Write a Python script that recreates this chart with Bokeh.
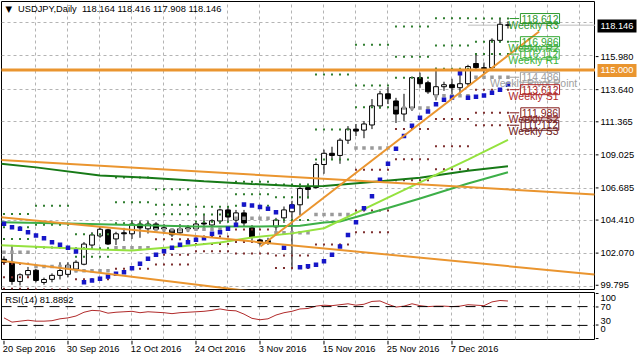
import pandas as pd
from bokeh.plotting import figure
from bokeh.layouts import column, row
from bokeh.models import FixedTicker, Label, Range1d, Span
from bokeh.core.properties import value
from bokeh.embed import file_html
from bokeh.resources import INLINE

# ---------------- data ----------------
dates = pd.bdate_range("2016-09-20", "2016-12-16")

opens = [101.69, 101.48, 100.13, 100.60, 100.92, 100.06, 100.28, 100.56, 100.63,
         101.00, 101.34, 102.69, 103.33, 103.76,
         103.12, 103.55, 103.48, 104.17, 103.83,
         104.17, 103.90, 103.76, 103.55, 103.90,
         103.83, 104.24, 104.10, 104.38, 105.16,
         104.45, 104.95, 103.90, 103.05, 103.00,
         103.97, 104.60, 105.03, 105.52, 106.73,
         106.73, 108.35, 109.14, 108.99, 110.06,
         110.84, 110.77, 111.13, 112.47, 113.32,
         112.82, 111.90, 112.33, 114.46, 114.10,
         113.25, 113.82, 113.96, 113.75, 114.03,
         115.45, 115.16, 115.16, 117.08, 118.164]
highs = [101.90, 102.70, 100.70, 101.15, 101.00, 100.40, 100.70, 101.48, 101.48,
         101.62, 102.90, 103.60, 103.97, 103.83,
         103.62, 103.90, 104.45, 104.40, 104.40,
         104.30, 104.17, 103.83, 104.17, 104.10,
         104.25, 104.88, 104.50, 105.25, 105.38,
         105.16, 105.16, 104.10, 103.13, 103.20,
         104.60, 105.40, 105.80, 106.80, 106.95,
         108.50, 109.40, 109.60, 110.20, 111.05,
         111.20, 111.40, 112.95, 113.53, 113.80,
         113.04, 113.32, 114.53, 114.81, 114.24,
         115.16, 114.17, 114.38, 114.81, 115.36,
         116.10, 115.52, 117.22, 118.66, 118.416]
lows = [101.40, 99.90, 99.85, 100.40, 100.07, 99.90, 100.07, 100.27, 100.42,
        100.77, 101.27, 102.56, 103.20, 102.69,
        102.69, 102.97, 103.12, 103.20, 103.50,
        103.69, 103.48, 103.26, 103.48, 103.60,
        103.70, 103.90, 103.90, 104.17, 104.30,
        104.17, 103.97, 103.00, 102.67, 102.70,
        103.69, 104.24, 100.98, 104.80, 105.95,
        106.66, 107.70, 108.70, 108.40, 109.80,
        110.35, 110.20, 110.84, 112.26, 112.60,
        111.27, 111.40, 112.12, 113.74, 113.32,
        112.86, 113.53, 113.18, 113.32, 113.89,
        114.95, 114.74, 115.09, 116.94, 117.908]
closes = [101.48, 100.13, 100.60, 100.90, 100.20, 100.27, 100.56, 100.90, 101.27,
          101.48, 102.76, 103.40, 103.80, 102.76,
          103.48, 103.48, 104.17, 103.90, 104.17,
          103.80, 103.83, 103.41, 103.83, 103.83,
          104.17, 104.17, 104.40, 105.16, 104.66,
          104.95, 104.24, 103.26, 102.83, 102.85,
          104.45, 105.16, 105.52, 106.66, 106.60,
          108.35, 109.14, 108.99, 110.06, 110.84,
          110.70, 111.20, 112.47, 113.32, 112.97,
          111.90, 112.33, 114.46, 114.03, 113.46,
          113.82, 113.96, 113.75, 114.03, 115.238,
          115.16, 115.09, 117.08, 118.21, 118.146]

# Parabolic SAR (read per bar)
sar = [104.18, 103.94, 103.83, 103.59, 103.36, 103.17, 102.89, 102.71, 102.50, 102.24,
       100.08, 100.20, 100.32, 100.48, 100.67, 100.78, 101.06, 101.37, 101.72, 102.00,
       102.26, 102.50, 102.71, 102.89, 103.06, 103.17, 103.48, 103.59, 103.83, 104.11,
       105.54, 105.47, 105.37, 105.24, 105.00, 102.50, 105.40, 101.13, 101.20, 101.30,
       101.55, 102.00, 102.59, 103.40, 104.30, 105.28, 106.12, 107.28, 108.40, 109.46,
       110.36, 111.08, 111.64, 112.08, 112.59, 112.91, 113.06, 114.77, 113.05, 113.12,
       113.20, 113.39, 113.60, 113.96]

# RSI(14) (read per bar)
rsi = [46, 37, 39, 41, 39, 39, 40, 44, 46, 50,
       58, 62, 61, 56, 58, 59, 60, 57, 59, 58,
       57, 55, 57, 58, 59, 60, 62, 65, 62, 61,
       54, 45, 42, 44, 52, 57, 60, 65, 66, 71,
       73, 72, 74, 76, 73, 75, 81, 82, 75, 69,
       71, 76, 72, 70, 71, 71, 70, 71, 74, 73,
       72, 80, 83, 81.8892]

# Moving averages (read at bar positions)
ma_slow_x = [-1, 4, 12, 18, 25, 31, 37, 40, 46, 52, 58, 63]
ma_slow = [108.45, 108.15, 107.58, 107.42, 107.17, 106.98, 106.83, 106.84, 107.12, 107.42, 107.92, 108.23]
ma_mid_x = [-1, 8, 16, 24, 32, 37, 40, 42, 46, 48, 52, 58, 63]
ma_mid = [104.30, 104.20, 104.10, 104.00, 104.00, 104.05, 104.27, 104.34, 104.98, 105.29, 105.96, 107.02, 107.81]
ma_fast_x = [-1, 6, 12, 16, 22, 27, 31, 36, 40, 48, 52, 58, 63]
ma_fast = [102.70, 102.52, 102.38, 102.31, 102.59, 102.87, 103.22, 103.51, 103.87, 106.03, 107.09, 108.70, 110.09]

# Weekly high/low/close of the previous weeks (weeks of 12 Sep ... 5 Dec)
wk_high = [103.00, 102.79, 101.48, 103.97, 104.45, 104.30, 105.38, 105.16, 106.95, 111.05, 113.80, 114.81, 115.36]
wk_low = [101.25, 99.85, 99.90, 100.77, 102.69, 103.26, 103.70, 102.67, 100.98, 106.66, 110.20, 111.27, 112.86]
wk_close = [102.30, 100.90, 101.27, 102.76, 104.17, 103.83, 104.66, 102.85, 106.60, 110.84, 112.97, 113.46, 115.238]

# Trend line objects: (bar0, price0, bar1, price1)
trend_lines = [(-0.5, 108.68, 73.8, 106.24),
               (-0.5, 104.65, 73.8, 100.62),
               (-0.5, 101.60, 32.0, 99.36),
               (32.06, 102.59, 66.9, 117.70)]
hline_level = 115.000
bid = 118.146
bid_from = 58

price_ticks = [115.980, 113.640, 111.365, 109.025, 106.685, 104.410, 102.070, 99.795]
grid_levels = [118.320] + price_ticks
date_ticks = [0, 8, 16, 24, 32, 40, 48, 56]
rsi_levels = [70, 30]
rsi_ticks = [100, 70, 30, 0]

title_text = "USDJPY,Daily\u00a0\u00a0118.164 118.416 117.908 118.146"
rsi_title = "RSI(14) 81.8892"

# ---------------- geometry / styling ----------------
FONT = "Liberation Sans"
UI_SIZE = "9.3px"
GRID = "#b4b4b4"
ORANGE = "#EA952F"
bars = list(range(len(dates)))

W_TOTAL, H_TOTAL = 637, 358
X0, X1 = -0.3125, 73.94         # bar range across the price frame
Y0, Y1 = 99.565, 119.81         # price range across the price frame
FW, FH = 594, 288               # price frame size (px)
AXW = W_TOTAL - FW - 1          # right axis column width (px)
RH = 47                          # RSI frame height (px)
pp_y = (Y1 - Y0) / FH
pp_x = (X1 - X0) / FW

xr = Range1d(X0, X1)


def base_fig(w, h, xrng, yrng, **kw):
    f = figure(width=w, height=h, x_range=xrng, y_range=yrng, output_backend="svg",
               toolbar_location=None, x_axis_location=None, y_axis_location=None,
               min_border=0, **kw)
    f.background_fill_color = "white"
    f.border_fill_color = "white"
    return f


# ---- main price panel ----
p = base_fig(FW + 1, FH + 2, xr, Range1d(Y0, Y1), min_border_left=1, min_border_top=1,
             min_border_bottom=1)
p.outline_line_color = "black"
p.xgrid.ticker = FixedTicker(ticks=list(range(4, 76, 4)))
p.ygrid.ticker = FixedTicker(ticks=grid_levels)
p.xgrid.grid_line_color = GRID
p.ygrid.grid_line_color = GRID
p.xgrid.grid_line_dash = "3 3"
p.ygrid.grid_line_dash = "3 3"

# bid line
p.line([bid_from, X1 + 1], [bid, bid], color="#bdbdbd", line_width=1)

# candles
up = [i for i in bars if closes[i] >= opens[i]]
dn = [i for i in bars if closes[i] < opens[i]]
p.segment(bars, highs, bars, lows, color="black", line_width=1)
p.vbar(x=up, bottom=[opens[i] for i in up], top=[closes[i] for i in up], width=0.6,
       fill_color="white", line_color="black", line_width=1)
p.vbar(x=dn, bottom=[closes[i] for i in dn], top=[opens[i] for i in dn], width=0.6,
       fill_color="black", line_color="black", line_width=1)

# weekly pivots (standard floor pivots from the previous week's H/L/C)
iso = [d.isocalendar()[1] for d in dates]
first_week = iso[0]
level_names = ["R3", "R2", "R1", "P", "S1", "S2", "S3"]
dot_col = {"R3": "#2f7d2f", "R2": "#2f7d2f", "R1": "#2f7d2f", "P": "#9a9a9a",
           "S1": "#7d2f2f", "S2": "#7d2f2f", "S3": "#7d2f2f"}


def pivots(k):
    h, l, c = wk_high[k], wk_low[k], wk_close[k]
    pv = (h + l + c) / 3
    return {"R3": h + 2 * (pv - l), "R2": pv + (h - l), "R1": 2 * pv - l, "P": pv,
            "S1": 2 * pv - h, "S2": pv - (h - l), "S3": l - 2 * (h - pv)}


dx, dy, dc, ds = [], [], [], []
for i in bars:
    lv = pivots(iso[i] - first_week)
    for n in level_names:
        dx.append(i)
        dy.append(lv[n])
        dc.append(dot_col[n])
        ds.append(3.5 if n == "P" else 2)
p.scatter(x=dx, y=dy, color=dc, size=ds, marker="square", line_width=0)

# moving averages
p.line(ma_slow_x, ma_slow, color="#177a17", line_width=2)
p.line(ma_mid_x, ma_mid, color="#3daf48", line_width=2)
p.line(ma_fast_x, ma_fast, color="#95e23f", line_width=2)

# parabolic SAR
p.scatter(bars, sar, marker="square", size=4.5, color="#1616c8", line_width=0)

# trend lines
for (x0, y0, x1, y1) in trend_lines:
    p.line([x0, x1], [y0, y1], color=ORANGE, line_width=2)
p.line([X0 - 1, X1 + 1], [hline_level, hline_level], color=ORANGE, line_width=3)

# weekly pivot labels (current week)
last = pivots(iso[-1] - first_week)
lab_col = {"R3": "#2e9a2e", "R2": "#33a833", "R1": "#3cb43c", "P": "#a0a0a0",
           "S1": "#b02828", "S2": "#851c1c", "S3": "#6e1a1a"}
lab_txt = {"R3": "Weekly R3", "R2": "Weekly R2", "R1": "Weekly R1", "P": "Weekly Pivot Point",
           "S1": "Weekly S1", "S2": "Weekly S2", "S3": "Weekly S3"}
for n in level_names:
    v = last[n]
    p.line([63.2, 64.4], [v, v], color=lab_col[n], line_width=1)
    p.add_layout(Label(x=66.2, y=v, text=lab_txt[n], text_align="center", text_baseline="top",
                       text_color=lab_col[n], text_font=FONT, text_font_size="10.5px"))
    p.add_layout(Label(x=67.0, y=v, text=f"{v:.3f}", text_align="center", text_baseline="middle",
                       text_color=lab_col[n], text_font=FONT, text_font_size="10.5px",
                       border_line_color=lab_col[n], border_line_width=1, padding=1))

# title
p.text(x=[0.2], y=[119.25], text=["\u25bc"], text_font=value("DejaVu Sans"), text_font_size="8.5px",
       text_baseline="middle", text_color="black")
p.text(x=[1.75], y=[119.25], text=[title_text], text_font=value(FONT), text_font_size=UI_SIZE,
       text_baseline="middle", text_color="black")

# ---- price axis column ----
PA_H = FH + 3
pa = base_fig(AXW, PA_H, Range1d(0, AXW), Range1d(Y0 - 2 * pp_y, Y1 + pp_y))
pa.outline_line_color = None
pa.grid.visible = False
pa.segment([0] * len(price_ticks), price_ticks, [3] * len(price_ticks), price_ticks,
           color="black", line_width=1)
pa.text(x=[5] * len(price_ticks), y=price_ticks, text=[f"{t:.3f}" for t in price_ticks],
        text_font=value(FONT), text_font_size=UI_SIZE, text_baseline="middle", text_color="black")
pa.rect(x=[21.5, 21.5], y=[bid, hline_level], width=39, height=13, height_units="screen",
        fill_color=["black", ORANGE], line_color=None)
pa.text(x=[5, 5], y=[bid, hline_level], text=[f"{bid:.3f}", f"{hline_level:.3f}"],
        text_font=value(FONT), text_font_size=UI_SIZE, text_baseline="middle", text_color="white")

# ---- RSI panel ----
r = base_fig(FW + 1, RH + 2, xr, Range1d(0, 100), min_border_left=1, min_border_top=1,
             min_border_bottom=1)
r.outline_line_color = "black"
r.xgrid.ticker = FixedTicker(ticks=list(range(4, 76, 4)))
r.xgrid.grid_line_color = GRID
r.xgrid.grid_line_dash = "3 3"
r.ygrid.visible = False
for lv in rsi_levels:
    r.add_layout(Span(location=lv, dimension="width", line_color="black", line_dash="10 6",
                      line_width=1))
r.line(bars, rsi, color="#b02a2a", line_width=1)
r.text(x=[0.15], y=[83], text=[rsi_title], text_font=value(FONT), text_font_size=UI_SIZE,
       text_baseline="middle", text_color="black")

# RSI axis column
rp = 100 / RH
ra = base_fig(AXW, RH + 2, Range1d(0, AXW), Range1d(-rp, 100 + rp))
ra.outline_line_color = None
ra.grid.visible = False
ra.segment([0] * 4, rsi_ticks, [3] * 4, rsi_ticks, color="black", line_width=1)
ra.text(x=[5] * 4, y=[89, 70, 38, 21], text=[str(t) for t in rsi_ticks],
        text_font=value(FONT), text_font_size=UI_SIZE, text_baseline="middle", text_color="black")

# ---- date axis row ----
DH = H_TOTAL - PA_H - (RH + 2)
d = base_fig(W_TOTAL, DH, Range1d(X0 - pp_x, X0 - pp_x + W_TOTAL * pp_x), Range1d(DH, 0))
d.outline_line_color = None
d.grid.visible = False
d.segment(date_ticks, [0] * len(date_ticks), date_ticks, [4] * len(date_ticks),
          color="black", line_width=1)
d.text(x=[t - 0.15 for t in date_ticks], y=[3] * len(date_ticks),
       text=[f"{dates[t].day} {dates[t].strftime('%b %Y')}" for t in date_ticks],
       text_font=value(FONT), text_font_size=UI_SIZE, text_baseline="top", text_color="black")

layout = column(row(p, pa), row(r, ra), d)
open("out.html", "w").write(file_html(layout, INLINE))
